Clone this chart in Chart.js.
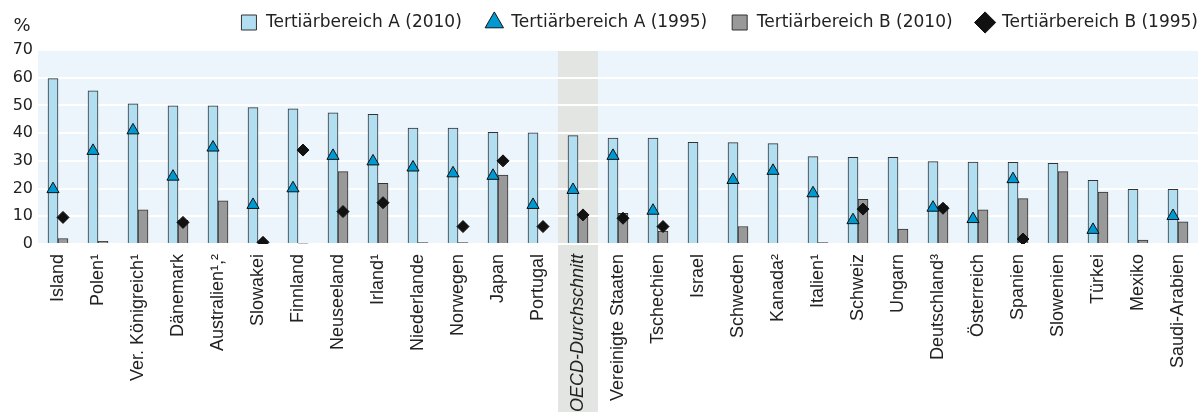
<!DOCTYPE html>
<html>
<head>
<meta charset="utf-8">
<script src="https://cdn.jsdelivr.net/npm/chart.js@4/dist/chart.umd.min.js"></script>
<style>
  html, body { margin: 0; padding: 0; background: #fff; }
  #wrap { width: 1200px; height: 412px; }
</style>
</head>
<body>
<div id="wrap"><canvas id="chart" width="1200" height="412"></canvas></div>
<script>
// categories (countries), footnote marks kept as superscripts
const countries = ['Island', 'Polen¹', 'Ver. Königreich¹', 'Dänemark', 'Australien¹,²', 'Slowakei',
  'Finnland', 'Neuseeland', 'Irland¹', 'Niederlande', 'Norwegen', 'Japan', 'Portugal',
  'OECD-Durchschnitt', 'Vereinigte Staaten', 'Tschechien', 'Israel', 'Schweden', 'Kanada²',
  'Italien¹', 'Schweiz', 'Ungarn', 'Deutschland³', 'Österreich', 'Spanien', 'Slowenien',
  'Türkei', 'Mexiko', 'Saudi-Arabien'];

// values in %
const tertA2010 = [59.7, 55.3, 50.6, 49.9, 49.9, 49.2, 48.8, 47.3, 46.8, 41.8, 41.8, 40.3, 40.1,
  39.1, 38.2, 38.2, 36.7, 36.6, 36.2, 31.5, 31.3, 31.3, 29.7, 29.6, 29.5, 29.1, 23.0, 19.7, 19.7];
const tertA1995 = [19.8, 33.6, 41, 24.3, 34.8, 14.1, 20.1, 31.8, 29.8, 27.6, 25.5, 24.6, 14.1,
  19.5, 31.8, 12, null, 23.1, 26.4, 18.3, 8.6, null, 13.1, 9, 23.4, null, 5.1, null, 10.1];
const tertB2010 = [2, 1, 12.3, 8.5, 15.6, null, 0.3, 26.1, 21.9, 0.5, 0.5, 24.9, null,
  9.9, 11.1, 4.7, null, 6.3, null, 0.5, 16.1, 5.4, 13.8, 12.3, 16.4, 26.1, 18.7, 1.4, 8];
const tertB1995 = [9.6, null, null, 7.8, null, 0.6, 33.9, 11.7, 14.9, null, 6.3, 30, 6.3,
  10.5, 9.3, 6.3, null, null, null, null, 12.6, null, 12.9, null, 1.8, null, null, null, null];

const yTicks = [0, 10, 20, 30, 40, 50, 60, 70];
const highlight = 'OECD-Durchschnitt';

const labelFont = "'Liberation Sans', Arial, sans-serif";
const textFont = "'DejaVu Sans', sans-serif";
const highlightIdx = countries.indexOf(highlight);
const last = countries.length - 1;
const legendPad = 24;

// A values sit on the left half of each category, B values on the right half
function pointsAt(values, shift) {
  const pts = [];
  values.forEach((v, i) => { if (v !== null) pts.push({ x: i + shift, y: v }); });
  return pts;
}

const backdrop = {
  id: 'backdrop',
  beforeDraw(chart) {
    const { ctx, chartArea: a, scales } = chart;
    // push legend items to the top right corner
    chart.legend.right = chart.width + legendPad - 2;
    chart.legend.top = -10;
    ctx.save();
    ctx.fillStyle = '#edf5fc';
    ctx.fillRect(a.left, a.top, a.right - a.left, a.bottom - a.top);
    // OECD average column band
    const step = (a.right - a.left) / countries.length;
    const cx = scales.x.getPixelForValue(highlightIdx);
    ctx.fillStyle = '#e3e5e3';
    ctx.fillRect(cx - step / 2, a.top, step, chart.height - a.top);
    ctx.restore();
  },
  afterDraw(chart) {
    const { ctx, chartArea: a } = chart;
    ctx.save();
    ctx.fillStyle = '#222';
    ctx.font = '18px ' + textFont;
    ctx.textAlign = 'center';
    ctx.textBaseline = 'middle';
    ctx.fillText('%', a.left - 16, 26);
    ctx.restore();
  }
};

const legendHeight = {
  id: 'legendHeight',
  beforeInit(chart) {
    const fit = chart.legend.fit;
    chart.legend.fit = function () {
      fit.bind(chart.legend)();
      this.height = 50;
    };
  }
};

const legendStyles = ['rect', 'triangle', 'rect', 'rectRot'];

new Chart(document.getElementById('chart'), {
  data: {
    labels: countries,
    datasets: [
      {
        type: 'bar',
        label: 'Tertiärbereich A (2010)',
        data: pointsAt(tertA2010, -0.125),
        xAxisID: 'xm',
        backgroundColor: '#b2def2',
        borderColor: '#333',
        borderWidth: 1,
        barThickness: 10,
        grouped: false,
        order: 2
      },
      {
        type: 'scatter',
        label: 'Tertiärbereich A (1995)',
        data: pointsAt(tertA1995, -0.125),
        xAxisID: 'xm',
        pointStyle: 'triangle',
        pointRadius: 7,
        pointHoverRadius: 7,
        backgroundColor: '#0099d2',
        borderColor: '#111',
        borderWidth: 1,
        order: 1
      },
      {
        type: 'bar',
        label: 'Tertiärbereich B (2010)',
        data: pointsAt(tertB2010, 0.125),
        xAxisID: 'xm',
        backgroundColor: '#999999',
        borderColor: '#333',
        borderWidth: 1,
        barThickness: 10,
        grouped: false,
        order: 2
      },
      {
        type: 'scatter',
        label: 'Tertiärbereich B (1995)',
        data: pointsAt(tertB1995, 0.125),
        xAxisID: 'xm',
        pointStyle: 'rectRot',
        pointRadius: 6,
        pointHoverRadius: 6,
        backgroundColor: '#111',
        borderColor: '#111',
        borderWidth: 1,
        order: 1
      }
    ]
  },
  options: {
    responsive: false,
    animation: false,
    layout: { autoPadding: false, padding: { left: 0, right: 2, top: 0, bottom: 0 } },
    plugins: {
      tooltip: { enabled: false },
      legend: {
        position: 'top',
        align: 'end',
        labels: {
          usePointStyle: true,
          boxHeight: 15,
          padding: legendPad,
          color: '#222',
          font: { family: textFont, size: 17 },
          sort: (a, b) => a.datasetIndex - b.datasetIndex,
          generateLabels(chart) {
            const items = Chart.defaults.plugins.legend.labels.generateLabels(chart);
            items.forEach((it) => { it.pointStyle = legendStyles[it.datasetIndex]; });
            return items;
          }
        }
      }
    },
    scales: {
      x: {
        type: 'category',
        offset: true,
        grid: { display: false },
        border: { display: false },
        ticks: {
          autoSkip: false,
          minRotation: 90,
          maxRotation: 90,
          padding: 2,
          color: '#222',
          font: (c) => ({ family: labelFont, size: 18, style: c.index === highlightIdx ? 'italic' : 'normal' })
        },
        afterFit(scale) {
          scale.height = 168;
          scale.paddingLeft = 0;
          scale.paddingRight = 0;
        }
      },
      xm: {
        type: 'linear',
        display: false,
        offset: false,
        min: -0.5,
        max: last + 0.5
      },
      y: {
        min: yTicks[0],
        max: yTicks[yTicks.length - 1],
        ticks: { stepSize: yTicks[1] - yTicks[0], color: '#222', padding: 5, font: { family: textFont, size: 16 } },
        grid: { color: '#ffffff', lineWidth: 2, drawTicks: false },
        border: { display: false },
        afterFit(scale) { scale.width = 38; }
      }
    }
  },
  plugins: [backdrop, legendHeight]
});
</script>
</body>
</html>
